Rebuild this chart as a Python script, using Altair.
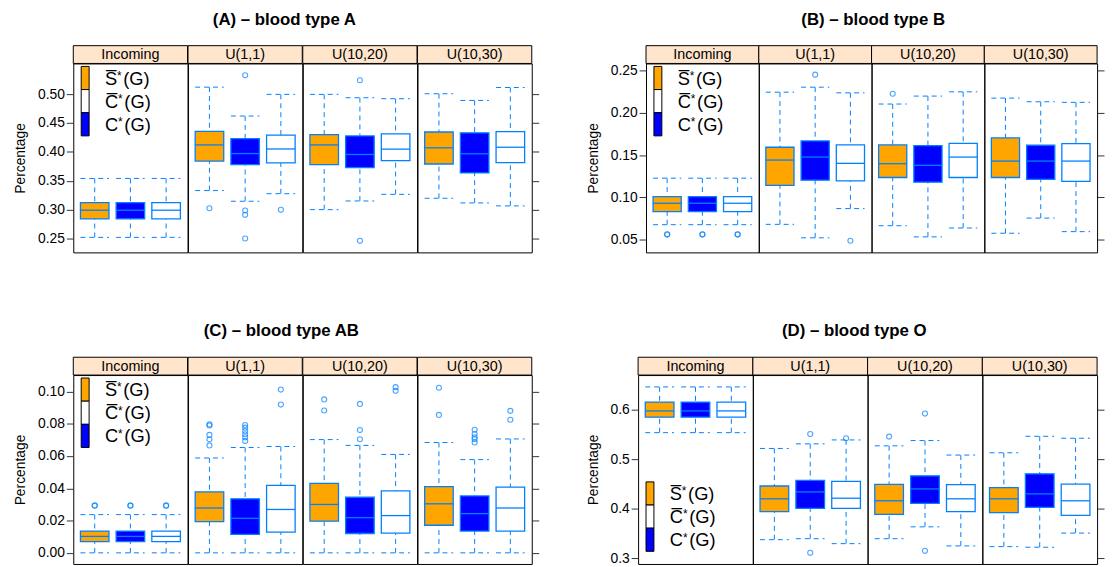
import altair as alt
import pandas as pd

DISTS = ["Incoming", "U(1,1)", "U(10,20)", "U(10,30)"]
GROUPS = ["S", "C", "Cbar"]          # box order: orange, blue, white
FILLS = ["#FFA500", "#0000FF", "#FFFFFF"]

# ---- blood type A (per distribution: S, C, Cbar) ----
A_lo  = [0.252, 0.252, 0.252, 0.333, 0.3145, 0.3276, 0.300, 0.315, 0.3265, 0.3197, 0.3116, 0.3065]
A_q1  = [0.284, 0.284, 0.284, 0.384, 0.378, 0.381, 0.378, 0.3727, 0.385, 0.379, 0.3636, 0.3813]
A_med = [0.299, 0.299, 0.299, 0.412, 0.397, 0.405, 0.412, 0.3955, 0.4047, 0.407, 0.3967, 0.408]
A_q3  = [0.312, 0.312, 0.312, 0.4355, 0.423, 0.429, 0.430, 0.4276, 0.431, 0.4344, 0.433, 0.435]
A_hi  = [0.354, 0.354, 0.354, 0.512, 0.462, 0.4995, 0.4995, 0.4937, 0.492, 0.5006, 0.489, 0.5114]
A_out_dist = ["U(1,1)", "U(1,1)", "U(1,1)", "U(1,1)", "U(1,1)", "U(1,1)", "U(10,20)", "U(10,20)"]
A_out_grp  = ["S", "C", "C", "C", "C", "Cbar", "C", "C"]
A_out_val  = [0.3025, 0.5325, 0.2985, 0.291, 0.25, 0.2997, 0.524, 0.246]

# ---- blood type B ----
B_lo  = [0.0679, 0.0679, 0.0679, 0.0683, 0.0524, 0.0869, 0.0667, 0.0535, 0.064, 0.0578, 0.0757, 0.0597]
B_q1  = [0.0834, 0.0834, 0.0834, 0.1142, 0.1204, 0.1197, 0.1236, 0.1181, 0.1236, 0.1236, 0.1213, 0.1189]
B_med = [0.0932, 0.0932, 0.0932, 0.1442, 0.1477, 0.1403, 0.1399, 0.1379, 0.1477, 0.143, 0.143, 0.143]
B_q3  = [0.101, 0.101, 0.101, 0.1593, 0.1668, 0.1621, 0.1621, 0.1613, 0.164, 0.1703, 0.1617, 0.1636]
B_hi  = [0.1228, 0.1228, 0.1228, 0.2243, 0.2302, 0.2235, 0.2103, 0.2197, 0.2247, 0.2173, 0.213, 0.2123]
B_out_dist = ["Incoming"] * 6 + ["U(1,1)", "U(1,1)", "U(10,20)"]
B_out_grp  = ["S", "S", "C", "C", "Cbar", "Cbar", "C", "Cbar", "S"]
B_out_val  = [0.0562, 0.0565, 0.0562, 0.0565, 0.0562, 0.0565, 0.245, 0.0489, 0.2224]

# ---- blood type AB ----
C_lo  = [0.0] * 12
C_q1  = [0.0069, 0.0069, 0.0069, 0.0194, 0.0114, 0.0129, 0.0196, 0.012, 0.0122, 0.0171, 0.0135, 0.0135]
C_med = [0.0102, 0.0102, 0.0102, 0.0278, 0.0214, 0.0269, 0.030, 0.0218, 0.0231, 0.0304, 0.0243, 0.0278]
C_q3  = [0.0135, 0.0135, 0.0135, 0.0378, 0.0335, 0.0418, 0.0431, 0.0345, 0.0384, 0.041, 0.0353, 0.0408]
C_hi  = [0.0237, 0.0237, 0.0237, 0.0588, 0.0653, 0.0659, 0.0702, 0.0666, 0.061, 0.0684, 0.0578, 0.0706]
C_out_dist = (["Incoming"] * 6 + ["U(1,1)"] * 13 + ["U(10,20)"] * 7 + ["U(10,30)"] * 9)
C_out_grp  = (["S", "S", "C", "C", "Cbar", "Cbar"]
              + ["S"] * 5 + ["C"] * 6 + ["Cbar"] * 2
              + ["S"] * 2 + ["C"] * 3 + ["Cbar"] * 2
              + ["S"] * 2 + ["C"] * 5 + ["Cbar"] * 2)
C_out_val  = ([0.0292, 0.0294] * 3
              + [0.0796, 0.0789, 0.0731, 0.0704, 0.0666]
              + [0.0792, 0.0776, 0.0755, 0.0735, 0.0716, 0.0694]
              + [0.1012, 0.0919]
              + [0.0951, 0.0882]
              + [0.0923, 0.0761, 0.0704]
              + [0.1027, 0.1004]
              + [0.1023, 0.0855]
              + [0.0763, 0.0737, 0.0716, 0.0704, 0.0684]
              + [0.088, 0.0825])

# ---- blood type O ----
D_lo  = [0.5536, 0.5536, 0.5536, 0.3378, 0.3398, 0.3298, 0.3398, 0.3637, 0.3252, 0.3238, 0.3226, 0.3511]
D_q1  = [0.5847, 0.5847, 0.5847, 0.3943, 0.4009, 0.4009, 0.3889, 0.4108, 0.3943, 0.3923, 0.4029, 0.3869]
D_med = [0.5974, 0.5974, 0.5974, 0.4202, 0.4341, 0.4214, 0.4162, 0.4401, 0.4202, 0.4202, 0.4301, 0.4162]
D_q3  = [0.6153, 0.6153, 0.6153, 0.446, 0.4573, 0.4553, 0.4493, 0.4666, 0.4486, 0.4427, 0.4706, 0.450]
D_hi  = [0.6458, 0.6458, 0.6458, 0.5217, 0.531, 0.5389, 0.527, 0.5376, 0.5084, 0.513, 0.5462, 0.5423]
D_out_dist = ["U(1,1)", "U(1,1)", "U(1,1)", "U(10,20)", "U(10,20)", "U(10,20)"]
D_out_grp  = ["C", "C", "Cbar", "S", "C", "C"]
D_out_val  = [0.5509, 0.3113, 0.5423, 0.5456, 0.592, 0.3153]

KEY_LETTERS = ["S\u0305", "C\u0305", "C"]
KEY_FILLS = ["#FFA500", "#FFFFFF", "#0000FF"]

BLUE = "#0080FF"
STRIP = "#FFE5CC"
FONT = "Liberation Sans"


def stats_df(lo, q1, med, q3, hi):
    return pd.DataFrame({
        "dist": [d for d in DISTS for _ in GROUPS],
        "grp": GROUPS * len(DISTS),
        "lo": lo, "q1": q1, "med": med, "q3": q3, "hi": hi,
    })


def out_df(d, g, v):
    return pd.DataFrame({"dist": d, "grp": g, "val": v})


def key_layers(top, seg):
    layers = []
    for i, (letter, fill) in enumerate(zip(KEY_LETTERS, KEY_FILLS)):
        one = alt.Chart(pd.DataFrame({"t": [letter]}))
        y0 = top + i * seg
        yc = y0 + seg / 2
        layers.append(one.mark_rect(fill=fill, stroke="black", strokeWidth=1).encode(
            x=alt.value(8), x2=alt.value(16), y=alt.value(y0), y2=alt.value(y0 + seg)))
        wl = 12.2 if letter.startswith("S") else 13.3
        layers.append(one.mark_text(align="left", baseline="alphabetic", fontSize=18.5, font=FONT,
                                    color="black").encode(
            x=alt.value(32), y=alt.value(yc + 6.6), text="t:N"))
        layers.append(one.mark_text(align="left", baseline="alphabetic", fontSize=12, font=FONT,
                                    color="black", text="*").encode(
            x=alt.value(32 + wl), y=alt.value(yc + 1.8)))
        layers.append(one.mark_text(align="left", baseline="alphabetic", fontSize=18.5, font=FONT,
                                    color="black", text="(G)").encode(
            x=alt.value(32 + wl + 6.3), y=alt.value(yc + 6.6)))
    return layers


def subpanel(stats, outs, d, w, h, dom, tvals, fmt, pos, key_top=None):
    s = stats[stats["dist"] == d]
    o = outs[outs["dist"] == d]
    xsc = alt.Scale(domain=GROUPS, paddingInner=0.2, paddingOuter=0.2)
    ysc = alt.Scale(domain=dom, nice=False, zero=False)
    if pos == "left":
        ax = alt.Axis(orient="left", values=tvals, format=fmt, title="Percentage",
                      tickSize=7, tickColor="#333333", labelPadding=2, titlePadding=10,
                      domain=False, grid=False, labelFontSize=14, titleFontSize=14,
                      labelFont=FONT, titleFont=FONT, labelColor="black", titleColor="black",
                      titleFontWeight="normal")
    elif pos == "right":
        ax = alt.Axis(orient="right", values=tvals, labels=False, title=None,
                      tickSize=7, tickColor="#333333", domain=False, grid=False)
    else:
        ax = None

    def Y(f):
        return alt.Y(f"{f}:Q", scale=ysc, axis=ax)

    X = alt.X("grp:N", scale=xsc, axis=None)
    Xa = alt.X("grp:N", scale=xsc, axis=None, bandPosition=0)
    Xb = alt.X2("grp:N", bandPosition=1)
    base = alt.Chart(s)
    dash = [5, 4]
    layers = [
        base.mark_rule(color=BLUE, strokeDash=dash, strokeWidth=1).encode(x=X, y=Y("hi"), y2="q3:Q"),
        base.mark_rule(color=BLUE, strokeDash=dash, strokeWidth=1).encode(x=X, y=Y("lo"), y2="q1:Q"),
        base.mark_rule(color=BLUE, strokeDash=dash, strokeWidth=1).encode(x=Xa, x2=Xb, y=Y("hi")),
        base.mark_rule(color=BLUE, strokeDash=dash, strokeWidth=1).encode(x=Xa, x2=Xb, y=Y("lo")),
        base.mark_bar(stroke=BLUE, strokeWidth=1.3).encode(
            x=X, y=Y("q1"), y2="q3:Q",
            fill=alt.Fill("grp:N", scale=alt.Scale(domain=GROUPS, range=FILLS), legend=None)),
        base.mark_rule(color=BLUE, strokeWidth=1.3).encode(x=Xa, x2=Xb, y=Y("med")),
        alt.Chart(o).mark_point(shape="circle", filled=False, color=BLUE, size=26,
                                strokeWidth=1.1).encode(x=X, y=Y("val")),
    ]
    one = alt.Chart(pd.DataFrame({"label": [d]}))
    layers.append(one.mark_rect(fill=STRIP, stroke="black", strokeWidth=1).encode(
        x=alt.value(0), x2=alt.value(w), y=alt.value(-18), y2=alt.value(0)))
    layers.append(one.mark_text(fontSize=14.5, font=FONT, color="black", baseline="middle").encode(
        x=alt.value(w / 2), y=alt.value(-8.5), text="label:N"))
    if key_top is not None:
        layers += key_layers(key_top, 23.4)
    return alt.layer(*layers).properties(width=w, height=h)


def panel(stats, outs, title, w, h, dom, tvals, fmt, key_top, dx):
    subs = []
    for i, d in enumerate(DISTS):
        pos = "left" if i == 0 else ("right" if i == len(DISTS) - 1 else "mid")
        subs.append(subpanel(stats, outs, d, w, h, dom, tvals, fmt, pos,
                             key_top if i == 0 else None))
    return alt.hconcat(*subs, spacing=0, bounds="flush").resolve_scale(y="independent").properties(
        title=alt.TitleParams(title, fontSize=17, fontWeight="bold", font=FONT, color="black",
                              anchor="middle", offset=16, dx=dx))


H = 191
pA = panel(stats_df(A_lo, A_q1, A_med, A_q3, A_hi), out_df(A_out_dist, A_out_grp, A_out_val),
           "(A) \u2013 blood type A", 115.5, H, [0.226, 0.553],
           [0.25, 0.30, 0.35, 0.40, 0.45, 0.50], ".2f", 3, 8)
pB = panel(stats_df(B_lo, B_q1, B_med, B_q3, B_hi), out_df(B_out_dist, B_out_grp, B_out_val),
           "(B) \u2013 blood type B", 114, H, [0.0352, 0.2582],
           [0.05, 0.10, 0.15, 0.20, 0.25], ".2f", 3, 28)
pC = panel(stats_df(C_lo, C_q1, C_med, C_q3, C_hi), out_df(C_out_dist, C_out_grp, C_out_val),
           "(C) \u2013 blood type AB", 115.5, H, [-0.0069, 0.1102],
           [0.0, 0.02, 0.04, 0.06, 0.08, 0.10], ".2f", 3, 5)
pD = panel(stats_df(D_lo, D_q1, D_med, D_q3, D_hi), out_df(D_out_dist, D_out_grp, D_out_val),
           "(D) \u2013 blood type O", 116, H, [0.2888, 0.6697],
           [0.3, 0.4, 0.5, 0.6], ".1f", 108, 9)

row1 = alt.hconcat(pA, pB, spacing=46).resolve_scale(y="independent")
row2 = alt.hconcat(pC, pD, spacing=46).resolve_scale(y="independent")
chart = alt.vconcat(row1, row2, spacing=70, padding={"left": 5, "top": 0, "right": 0, "bottom": 0}
                    ).resolve_scale(y="independent").configure(font=FONT).configure_view(
    stroke="black", strokeWidth=1)

chart.save("out.html", embed_options={"renderer": "svg", "actions": False})
